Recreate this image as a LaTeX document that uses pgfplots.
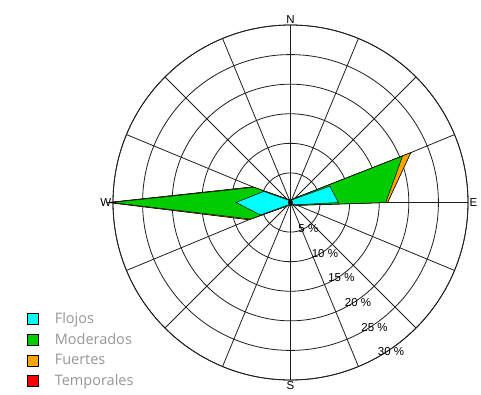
\documentclass[border=0pt]{standalone}
\usepackage{fontspec}
\setmainfont{Liberation Sans}
\newfontfamily\legfont{Open Sans}
\usepackage{pgfplots}
\pgfplotsset{compat=1.18}
\usepgfplotslibrary{polar}
\definecolor{cflojo}{RGB}{0,255,255}
\definecolor{cmod}{RGB}{0,204,0}
\definecolor{cfuer}{RGB}{255,165,0}
\definecolor{ctemp}{RGB}{255,0,0}
\definecolor{gridc}{RGB}{30,30,30}
\definecolor{legtext}{RGB}{150,150,150}
\begin{document}
\begin{tikzpicture}
\begin{polaraxis}[
  scale only axis, width=355pt, height=355pt,
  clip=false,
  xmin=0, xmax=360, ymin=0, ymax=30,
  xtick={0,22.5,45,67.5,90,112.5,135,157.5,180,202.5,225,247.5,270,292.5,315,337.5},
  xticklabels={E,,,,N,,,,W,,,,S,,,},
  xticklabel style={font=\fontsize{11.5}{12}\selectfont, inner sep=1.5pt},
  ytick={5,10,15,20,25,30},
  yticklabels={},
  major tick length=0pt,
  grid=major,
  grid style={gridc, line width=0.8pt},
  major grid style={gridc, line width=0.8pt},
  axis line style={gridc, line width=0.8pt},
  legend image code/.code={\draw[#1, draw=black, line width=0.7pt] (0pt,-5.5pt) rectangle (11pt,5.5pt);},
  legend style={at={(axis description cs:-0.251,0.198)}, anchor=north west, draw=none, fill=none,
     font=\legfont\fontsize{14.5}{15}\selectfont, text=legtext, row sep=6.3pt,
     nodes={inner sep=1pt},
     /tikz/every odd column/.append style={column sep=15pt}},
  legend cell align=left,
]
\coordinate (O) at (axis cs:0,0);
% Temporales (cumulative)
\addplot[fill=ctemp, draw=black, line width=0.5pt, forget plot] coordinates {
(90,0.45) (67.5,0.55) (45,1.05) (22.5,22.0) (0,16.4) (-22.5,1.25) (-45,0.55) (-67.5,0.45)
(-90,0.45) (-112.5,0.45) (-135,0.85) (-157.5,7.6) (-180,30.8) (-202.5,6.9) (-225,0.85) (-247.5,0.45) (-270,0.45)};
% Fuertes (cumulative)
\addplot[fill=cfuer, draw=black, line width=0.5pt, forget plot] coordinates {
(90,0.45) (67.5,0.55) (45,1.05) (22.5,22.0) (0,16.4) (-22.5,1.25) (-45,0.55) (-67.5,0.45)
(-90,0.45) (-112.5,0.45) (-135,0.85) (-157.5,7.6) (-180,30.8) (-202.5,6.9) (-225,0.85) (-247.5,0.45) (-270,0.45)};
% Moderados (cumulative)
\addplot[fill=cmod, draw=black, line width=0.5pt, forget plot] coordinates {
(90,0.4) (67.5,0.5) (45,1.0) (22.5,20.5) (0,16.1) (-22.5,1.2) (-45,0.5) (-67.5,0.4)
(-90,0.4) (-112.5,0.4) (-135,0.8) (-157.5,7.3) (-180,30.2) (-202.5,6.7) (-225,0.8) (-247.5,0.4) (-270,0.4)};
% Flojos
\addplot[fill=cflojo, draw=black, line width=0.5pt, forget plot] coordinates {
(90,0.3) (67.5,0.4) (45,0.8) (22.5,7.2) (0,8.1) (-22.5,1.0) (-45,0.4) (-67.5,0.3)
(-90,0.3) (-112.5,0.3) (-135,0.6) (-157.5,5.5) (-180,9.2) (-202.5,4.9) (-225,0.6) (-247.5,0.3) (-270,0.3)};
\addplot[only marks, mark=*, mark size=2.2pt, black, forget plot] coordinates {(0,0)};
\addlegendimage{fill=cflojo}\addlegendentry{Flojos}
\addlegendimage{fill=cmod}\addlegendentry{Moderados}
\addlegendimage{fill=cfuer}\addlegendentry{Fuertes}
\addlegendimage{fill=ctemp}\addlegendentry{Temporales}
\node[font=\fontsize{11.5}{12}\selectfont, inner sep=0pt] at (axis cs:-56,5.4) {5 \%};
\node[font=\fontsize{11.5}{12}\selectfont, inner sep=0pt] at (axis cs:-56,10.4) {10 \%};
\node[font=\fontsize{11.5}{12}\selectfont, inner sep=0pt] at (axis cs:-56,15.4) {15 \%};
\node[font=\fontsize{11.5}{12}\selectfont, inner sep=0pt] at (axis cs:-56,20.4) {20 \%};
\node[font=\fontsize{11.5}{12}\selectfont, inner sep=0pt] at (axis cs:-56,25.4) {25 \%};
\node[font=\fontsize{11.5}{12}\selectfont, inner sep=0pt] at (axis cs:-56,30.4) {30 \%};
\end{polaraxis}
\pgfresetboundingbox
\path[use as bounding box] (O) ++(-290.5pt,-191.5pt) rectangle ++(481pt,394pt);
\end{tikzpicture}
\end{document}
